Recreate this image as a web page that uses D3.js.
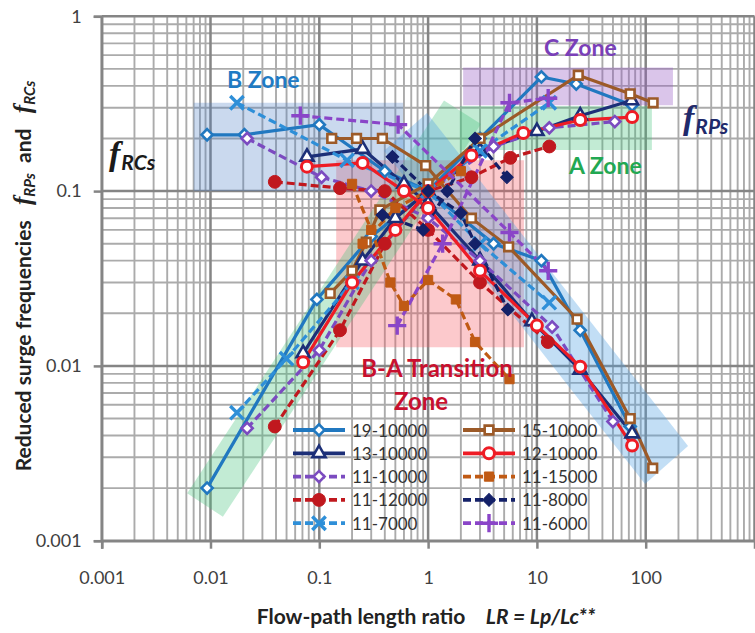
<!DOCTYPE html>
<html><head><meta charset="utf-8">
<script src="https://cdn.jsdelivr.net/npm/d3@7"></script>
<style>
body{margin:0;background:#fff}
svg{display:block}
text{font-family:Lato,"Open Sans",sans-serif}
</style>
</head><body>
<svg id="chart" width="755" height="633"></svg>
<script>
// ---------- data ----------
const xTicks = [0.001, 0.01, 0.1, 1, 10, 100];
const yTicks = [0.001, 0.01, 0.1, 1];
const seriesNames = ["19-10000","13-10000","11-10000","11-12000","11-7000","15-10000","12-10000","11-15000","11-8000","11-6000"];

// fRCs branches (decreasing)
const rc_19_10000 = [[0.0093,0.21],[0.0205,0.21],[0.1,0.24],[0.4,0.13],[1,0.1],[4,0.05],[11,0.04],[25,0.016],[72,0.0045]];
const rc_13_10000 = [[0.077,0.157],[0.25,0.174],[0.6,0.11],[1,0.085],[3,0.04],[9,0.018],[25,0.0095],[75,0.0041]];
const rc_11_10000 = [[0.0217,0.2],[0.105,0.12],[0.3,0.1],[1,0.07],[3,0.04],[13.8,0.0167],[50,0.0048]];
const rc_11_12000 = [[0.039,0.113],[0.155,0.104],[0.4,0.1],[1,0.06],[3,0.03],[12.6,0.0137]];
const rc_11_7000  = [[0.0175,0.32],[0.18,0.15],[1,0.1],[3,0.05],[13,0.023]];
const rc_15_10000 = [[0.13,0.2],[0.22,0.2],[0.38,0.2],[0.95,0.14],[2.5,0.07],[5.5,0.048],[23.4,0.0185],[72,0.005],[116,0.0026]];
const rc_12_10000 = [[0.077,0.138],[0.25,0.145],[0.6,0.1],[1,0.08],[3,0.035],[10,0.017],[25,0.0099],[75,0.0035]];
const rc_11_15000 = [[0.2,0.11],[0.3,0.06],[0.45,0.03],[0.6,0.022],[1,0.031],[1.8,0.024],[2.7,0.0137],[5.6,0.0084]];
const rc_11_8000  = [[0.47,0.157],[1,0.1],[2,0.075],[2.7,0.05],[5.4,0.021]];
const rc_11_6000  = [[0.067,0.27],[0.53,0.24],[5.6,0.058],[12.7,0.035]];

// fRPs branches (increasing)
const rp_19_10000 = [[0.0093,0.002],[0.095,0.024],[0.3,0.055],[1,0.1],[3,0.2],[11,0.45],[23,0.41],[75,0.31]];
const rp_13_10000 = [[0.071,0.0118],[0.25,0.04],[0.5,0.07],[1,0.1],[3,0.17],[10,0.22],[25,0.27],[74,0.33]];
const rp_11_10000 = [[0.0217,0.0044],[0.1,0.0123],[0.3,0.04],[1,0.1],[4,0.18],[13,0.23],[52,0.25]];
const rp_11_12000 = [[0.039,0.0045],[0.155,0.016],[0.4,0.05],[1,0.1],[2.5,0.12],[5.7,0.155],[13,0.18]];
const rp_11_7000  = [[0.0175,0.0054],[0.05,0.011],[0.2,0.03],[1,0.1],[3,0.17],[13,0.32]];
const rp_15_10000 = [[0.126,0.026],[0.2,0.035],[0.27,0.051],[0.36,0.078],[1,0.11],[3,0.2],[24,0.46],[72,0.36],[117,0.32]];
const rp_12_10000 = [[0.071,0.0105],[0.2,0.03],[0.5,0.06],[1,0.1],[2.5,0.16],[7.5,0.215],[25,0.255],[75,0.265]];
const rp_11_15000 = [[0.25,0.05],[0.5,0.08],[1,0.1],[2,0.13]];
const rp_11_8000  = [[0.38,0.073],[0.9,0.06],[1.5,0.1],[2.7,0.2],[5.3,0.12]];
const rp_11_6000  = [[0.52,0.017],[1.36,0.05],[5.6,0.32],[12.7,0.34]];

// zone outlines (data coordinates)
const zoneB  = [[0.007,0.32],[0.59,0.32],[0.59,0.1],[0.007,0.1]];
const zoneC  = [[2.1,0.51],[178,0.51],[178,0.31],[2.1,0.31]];
const zoneA  = [[1.96,0.307],[114,0.307],[114,0.172],[1.96,0.172]];
const zoneBA = [[0.143,0.15],[7.6,0.15],[7.6,0.0128],[0.143,0.0128]];
const bandA  = [[0.0061,0.00187],[1.4,0.33],[3.06,0.242],[0.013,0.00137]];
const bandB  = [[0.977,0.28],[245,0.00348],[98.6,0.00211],[0.393,0.17]];

// ---------- styles ----------
const rcData = [rc_19_10000,rc_13_10000,rc_11_10000,rc_11_12000,rc_11_7000,rc_15_10000,rc_12_10000,rc_11_15000,rc_11_8000,rc_11_6000];
const rpData = [rp_19_10000,rp_13_10000,rp_11_10000,rp_11_12000,rp_11_7000,rp_15_10000,rp_12_10000,rp_11_15000,rp_11_8000,rp_11_6000];
const seriesColors = ["#2178c0","#1c2f78","#7b4bc0","#c0181e","#2e8fd8","#9c5a28","#ee1c25","#c05a14","#142168","#8a45c8"];
const seriesDashed = [false,false,true,true,true,false,false,true,true,true];
const seriesMarkers = ["diamondOpen","triangleOpen","diamondOpen","circleFilled","x","squareOpen","circleOpen","squareFilled","diamondFilled","plus"];

const svg = d3.select("#chart");
const x = d3.scaleLog().domain([0.001, 1000]).range([101.7, 754.5]);
const y = d3.scaleLog().domain([0.001, 1]).range([540.7, 16.3]);

// ---------- grid ----------
const grid = svg.append("g");
const xMinor = [], xMajor = [];
for (let d = -3; d <= 2; d++) for (let k = 1; k <= 9; k++) { const v = k * Math.pow(10, d); (k === 1 ? xMajor : xMinor).push(v); }
xMajor.push(1000);
const yMinor = [], yMajor = [];
for (let d = -3; d <= -1; d++) for (let k = 1; k <= 9; k++) { const v = k * Math.pow(10, d); (k === 1 ? yMajor : yMinor).push(v); }
yMajor.push(1);

grid.selectAll(".xm").data(xMinor).join("line")
  .attr("x1", d => x(d)).attr("x2", d => x(d)).attr("y1", y(1)).attr("y2", y(0.001))
  .attr("stroke", "#ababab").attr("stroke-width", 1.9);
grid.selectAll(".ym").data(yMinor).join("line")
  .attr("y1", d => y(d)).attr("y2", d => y(d)).attr("x1", x(0.001)).attr("x2", x(1000))
  .attr("stroke", "#ababab").attr("stroke-width", 1.9);
grid.selectAll(".xM").data(xMajor).join("line")
  .attr("x1", d => x(d)).attr("x2", d => x(d)).attr("y1", y(1)).attr("y2", y(0.001))
  .attr("stroke", "#858585").attr("stroke-width", 2.5);
grid.selectAll(".yM").data(yMajor).join("line")
  .attr("y1", d => y(d)).attr("y2", d => y(d)).attr("x1", x(0.001)).attr("x2", x(1000))
  .attr("stroke", "#858585").attr("stroke-width", 2.5);

// ---------- axes ----------
const fmt = v => String(v);
const xAxis = svg.append("g").attr("transform", `translate(0,${y(0.001)})`)
  .call(d3.axisBottom(x).tickValues(xTicks).tickFormat(fmt).tickSize(8).tickPadding(23));
const yAxis = svg.append("g").attr("transform", `translate(${x(0.001)},0)`)
  .call(d3.axisLeft(y).tickValues(yTicks).tickFormat(fmt).tickSize(8).tickPadding(12));
[xAxis, yAxis].forEach(a => {
  a.select(".domain").attr("stroke", "#858585").attr("stroke-width", 2.5);
  a.selectAll(".tick line").attr("stroke", "#858585").attr("stroke-width", 2.5);
  a.selectAll(".tick text").attr("fill", "#404040").style("font-size", "18px").style("font-family", "Lato, sans-serif");
});

// ---------- zones ----------
const poly = d3.line().x(d => x(d[0])).y(d => y(d[1])).curve(d3.curveLinearClosed);
const zones = svg.append("g");
const zoneList = [
  [zoneBA, "rgba(245,90,100,0.33)"],
  [bandA, "rgba(70,195,125,0.33)"],
  [bandB, "rgba(80,160,225,0.35)"],
  [zoneB, "rgba(80,130,200,0.30)"],
  [zoneC, "rgba(150,90,195,0.35)"],
  [zoneA, "rgba(70,195,125,0.33)"]
];
zoneList.forEach(([pts, col]) => zones.append("path").attr("d", poly(pts)).attr("fill", col));

// ---------- series ----------
const series = seriesNames.map((n, i) => ({
  name: n, rc: rcData[i], rp: rpData[i], color: seriesColors[i], dashed: seriesDashed[i], marker: seriesMarkers[i]
}));
const line = d3.line().x(d => x(d[0])).y(d => y(d[1]));

function drawMarker(g, type, color, cx, cy) {
  let sym, size, fill, stroke = color, sw = 2.6, rot = 0;
  switch (type) {
    case "diamondOpen": sym = d3.symbolSquare; size = 62; fill = "#fff"; rot = 45; break;
    case "diamondFilled": sym = d3.symbolSquare; size = 80; fill = color; sw = 1; rot = 45; break;
    case "triangleOpen": sym = d3.symbolTriangle; size = 75; fill = "#fff"; break;
    case "circleFilled": sym = d3.symbolCircle; size = 130; fill = color; sw = 1; break;
    case "circleOpen": sym = d3.symbolCircle; size = 95; fill = "#fff"; sw = 3; break;
    case "squareOpen": sym = d3.symbolSquare; size = 75; fill = "#fff"; break;
    case "squareFilled": sym = d3.symbolSquare; size = 85; fill = color; sw = 1; break;
    case "x": sym = d3.symbolX; size = 120; fill = "none"; sw = 3.4; break;
    case "plus": sym = d3.symbolPlus; size = 110; fill = "none"; sw = 3.4; break;
  }
  g.append("path").attr("d", d3.symbol(sym, size)())
    .attr("transform", `translate(${cx},${cy}) rotate(${rot})`)
    .attr("fill", fill).attr("stroke", stroke).attr("stroke-width", sw);
}

const sg = svg.append("g");
series.forEach(s => {
  [s.rc, s.rp].forEach(branch => {
    sg.append("path").attr("d", line(branch)).attr("fill", "none")
      .attr("stroke", s.color).attr("stroke-width", 3.2)
      .attr("stroke-dasharray", s.dashed ? "8,4" : null);
  });
});
series.forEach(s => {
  [s.rc, s.rp].forEach(branch => {
    branch.forEach(d => drawMarker(sg, s.marker, s.color, x(d[0]), y(d[1])));
  });
});

// ---------- legend ----------
const lg = svg.append("g");
series.forEach((s, i) => {
  const col = Math.floor(i / 5), row = i % 5;
  const lx = col === 0 ? 293 : 463;
  const ly = 430 + row * 23.3;
  lg.append("line").attr("x1", lx).attr("x2", lx + 52).attr("y1", ly).attr("y2", ly)
    .attr("stroke", s.color).attr("stroke-width", 3.8).attr("stroke-dasharray", s.dashed ? "8,4" : null);
  drawMarker(lg, s.marker, s.color, lx + 26, ly);
  lg.append("text").attr("x", lx + 59).attr("y", ly + 6.5).text(s.name)
    .attr("fill", "#333").style("font-size", "17px");
});

// ---------- annotations ----------
const ann = svg.append("g").style("font-weight", "bold");
ann.append("text").attr("x", 227).attr("y", 88).text("B Zone").attr("fill", "#1f7bc4").style("font-size", "23px");
ann.append("text").attr("x", 544).attr("y", 56).text("C Zone").attr("fill", "#7a3fb8").style("font-size", "23px");
ann.append("text").attr("x", 569).attr("y", 174).text("A Zone").attr("fill", "#22a852").style("font-size", "23px");
ann.append("text").attr("x", 437).attr("y", 377).text("B-A Transition").attr("text-anchor", "middle").attr("fill", "#c8102e").style("font-size", "24px");
ann.append("text").attr("x", 421).attr("y", 410).text("Zone").attr("text-anchor", "middle").attr("fill", "#c8102e").style("font-size", "24px");

function fLabel(xp, yp, sub, color) {
  const t = svg.append("text").attr("x", xp).attr("y", yp).attr("fill", color).style("font-weight", "bold").style("font-style", "italic");
  t.append("tspan").text("f").style("font-family", "'Liberation Serif', serif").style("font-size", "34px");
  t.append("tspan").text(sub).attr("dy", 5).attr("dx", 1).style("font-size", "21px");
}
fLabel(109, 165, "RCs", "#1a1a1a");
fLabel(683, 129, "RPs", "#1f2a6b");

// axis titles
const xt = svg.append("text").attr("x", 426).attr("y", 624).attr("text-anchor", "middle")
  .attr("fill", "#222").style("font-weight", "bold").style("font-size", "21px").style("white-space", "pre");
xt.append("tspan").text("Flow-path length ratio    ");
xt.append("tspan").text("LR = Lp/Lc**").style("font-style", "italic");

const yt = svg.append("text").attr("transform", "translate(31,276) rotate(-90)").attr("text-anchor", "middle")
  .attr("fill", "#222").style("font-weight", "bold").style("font-size", "21px").style("white-space", "pre");
yt.append("tspan").text("Reduced surge frequencies   ");
yt.append("tspan").text("f").style("font-style", "italic").style("font-family", "'Liberation Serif', serif").style("font-size", "25px");
yt.append("tspan").text("RPs").style("font-style", "italic").style("font-size", "15px").attr("dy", 4);
yt.append("tspan").text("  and   ").attr("dy", -4);
yt.append("tspan").text("f").style("font-style", "italic").style("font-family", "'Liberation Serif', serif").style("font-size", "25px");
yt.append("tspan").text("RCs").style("font-style", "italic").style("font-size", "15px").attr("dy", 4);
</script>
</body></html>
